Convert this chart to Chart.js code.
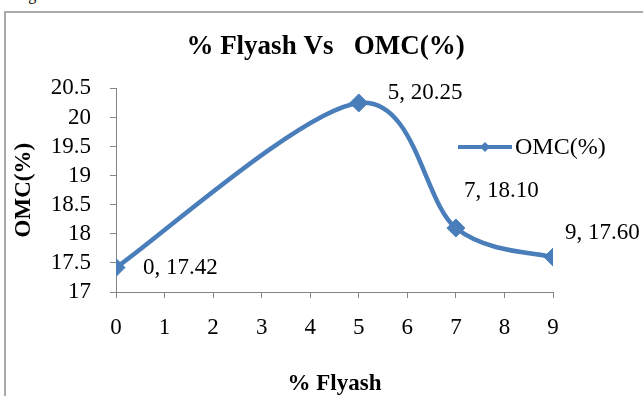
<!DOCTYPE html>
<html>
<head>
<meta charset="utf-8">
<script src="https://cdn.jsdelivr.net/npm/chart.js@4/dist/chart.umd.min.js"></script>
<style>
  html, body { margin: 0; padding: 0; background: #ffffff; overflow: hidden; }
  #wrap { position: relative; width: 643px; height: 396px; overflow: hidden; }
  #frame { position: absolute; left: 4px; top: 11px; width: 700px; height: 500px;
           border: 2px solid #a9a9a9; box-sizing: border-box; }
  #cap { position: absolute; left: 15px; top: -13px; font: 16px/16px "Liberation Serif", serif; color: #000; }
  canvas { position: absolute; left: 0; top: 0; }
</style>
</head>
<body>
<div id="wrap">
  <div id="cap">Figure</div>
  <div id="frame"></div>
  <canvas id="c" width="643" height="396"></canvas>
</div>
<script>
// ---- data ----
const flyash = [0, 5, 7, 9];
const omc = [17.42, 20.25, 18.10, 17.60];
const pointLabels = ["0, 17.42", "5, 20.25", "7, 18.10", "9, 17.60"];
const xTickLabels = ["0", "1", "2", "3", "4", "5", "6", "7", "8", "9"];
const yTickLabels = ["17", "17.5", "18", "18.5", "19", "19.5", "20", "20.5"];
const seriesName = "OMC(%)";
const chartTitle = "% Flyash Vs   OMC(%)";
const xTitle = "% Flyash";
const yTitle = "OMC(%)";

// ---- styling ----
const BLUE = "#4a7ebb";
const AXIS = "#868686";
const SERIF = '"Liberation Serif", "Times New Roman", serif';
const labelOffsets = [[27, 0], [29, -10], [8, -37], [12, -24]];
const SMOOTH = 1 / 6;   // spreadsheet-style smoothing factor

// Spreadsheet-like smoothing: tangents (next - prev) * 1/6, arms limited to half a segment.
const smoothPlugin = {
  id: "sheetSmooth",
  beforeDatasetDraw(chart, args) {
    const meta = args.meta;
    const line = meta.dataset;
    if (!line) return;
    line.updateControlPoints(chart.chartArea, meta.iScale.axis);
    const pts = meta.data;
    const n = pts.length;
    for (let i = 0; i < n; i++) {
      const p = pts[i];
      const prev = pts[i - 1] || p;
      const next = pts[i + 1] || p;
      const tx = (next.x - prev.x) * SMOOTH;
      const ty = (next.y - prev.y) * SMOOTH;
      const tl = Math.hypot(tx, ty) || 1;
      const dPrev = Math.hypot(p.x - prev.x, p.y - prev.y);
      const dNext = Math.hypot(next.x - p.x, next.y - p.y);
      const kPrev = Math.min(1, (dPrev / 2) / tl);
      const kNext = Math.min(1, (dNext / 2) / tl);
      p.cp1x = p.x - tx * kPrev; p.cp1y = p.y - ty * kPrev;
      p.cp2x = p.x + tx * kNext; p.cp2y = p.y + ty * kNext;
    }
    delete line._path;
  }
};

const dataLabelPlugin = {
  id: "dataLabels",
  afterDatasetsDraw(chart) {
    const ctx = chart.ctx;
    const meta = chart.getDatasetMeta(0);
    ctx.save();
    ctx.font = '23px ' + SERIF;
    ctx.fillStyle = "#000";
    ctx.textAlign = "left";
    ctx.textBaseline = "middle";
    meta.data.forEach((pt, i) => {
      const o = labelOffsets[i];
      ctx.fillText(pointLabels[i], pt.x + o[0], pt.y + o[1]);
    });
    ctx.restore();
  }
};

const legendPlugin = {
  id: "customLegend",
  afterDraw(chart) {
    const ctx = chart.ctx;
    const ds = chart.data.datasets[0];
    const x0 = 458, x1 = 512, y = 147;
    ctx.save();
    ctx.strokeStyle = ds.borderColor;
    ctx.lineWidth = 4;
    ctx.beginPath(); ctx.moveTo(x0, y); ctx.lineTo(x1, y); ctx.stroke();
    ctx.fillStyle = ds.pointBackgroundColor;
    const cx = (x0 + x1) / 2, r = 5;
    ctx.beginPath();
    ctx.moveTo(cx, y - r); ctx.lineTo(cx + r, y); ctx.lineTo(cx, y + r); ctx.lineTo(cx - r, y);
    ctx.closePath(); ctx.fill();
    ctx.font = '24px ' + SERIF;
    ctx.fillStyle = "#000";
    ctx.textAlign = "left";
    ctx.textBaseline = "middle";
    ctx.fillText(ds.label, x1 + 3, y + 1);
    ctx.restore();
  }
};

new Chart(document.getElementById("c"), {
  type: "line",
  data: {
    datasets: [{
      label: seriesName,
      data: flyash.map((x, i) => ({ x: x, y: omc[i] })),
      borderColor: BLUE,
      backgroundColor: BLUE,
      pointBackgroundColor: BLUE,
      pointBorderColor: BLUE,
      borderWidth: 4.5,
      pointStyle: "rectRot",
      pointRadius: 9,
      pointBorderWidth: 1,
      tension: 0.3,
      capBezierPoints: false,
      fill: false
    }]
  },
  options: {
    responsive: false,
    animation: false,
    events: [],
    layout: { padding: { left: 8, right: 0, top: 0, bottom: 0 } },
    plugins: {
      legend: { display: false },
      tooltip: { enabled: false },
      title: {
        display: true,
        text: chartTitle,
        color: "#000",
        font: { family: SERIF, size: 27, weight: "bold" },
        padding: { top: 31, bottom: 25 }
      }
    },
    scales: {
      x: {
        type: "linear",
        min: 0, max: 9,
        afterFit(scale) { scale.height = 104; },
        ticks: { stepSize: 1, color: "#000", padding: 16, autoSkip: false, maxRotation: 0,
                 callback: (v, i) => xTickLabels[i],
                 font: { family: SERIF, size: 23 } },
        grid: { drawOnChartArea: false, drawTicks: true, tickLength: 6, color: AXIS },
        border: { color: AXIS, width: 1 },
        title: { display: true, text: xTitle, color: "#000",
                 font: { family: SERIF, size: 23, weight: "bold", lineHeight: 1.05 },
                 padding: { top: 0, bottom: 0 } }
      },
      y: {
        min: 17, max: 20.5,
        afterFit(scale) { scale.width = 108; },
        ticks: { stepSize: 0.5, color: "#000", padding: 19, autoSkip: false,
                 callback: (v, i) => yTickLabels[i],
                 font: { family: SERIF, size: 23 } },
        grid: { drawOnChartArea: false, drawTicks: true, tickLength: 6, color: AXIS },
        border: { color: AXIS, width: 1 },
        title: { display: true, text: yTitle, color: "#000",
                 font: { family: SERIF, size: 23, weight: "bold" },
                 padding: { top: 2, bottom: 2 } }
      },
      spacer: {
        type: "linear",
        position: "right",
        display: true,
        afterFit(scale) { scale.width = 90; },
        ticks: { display: false },
        grid: { display: false, drawTicks: false },
        border: { display: false }
      }
    }
  },
  plugins: [smoothPlugin, dataLabelPlugin, legendPlugin]
});
</script>
</body>
</html>
